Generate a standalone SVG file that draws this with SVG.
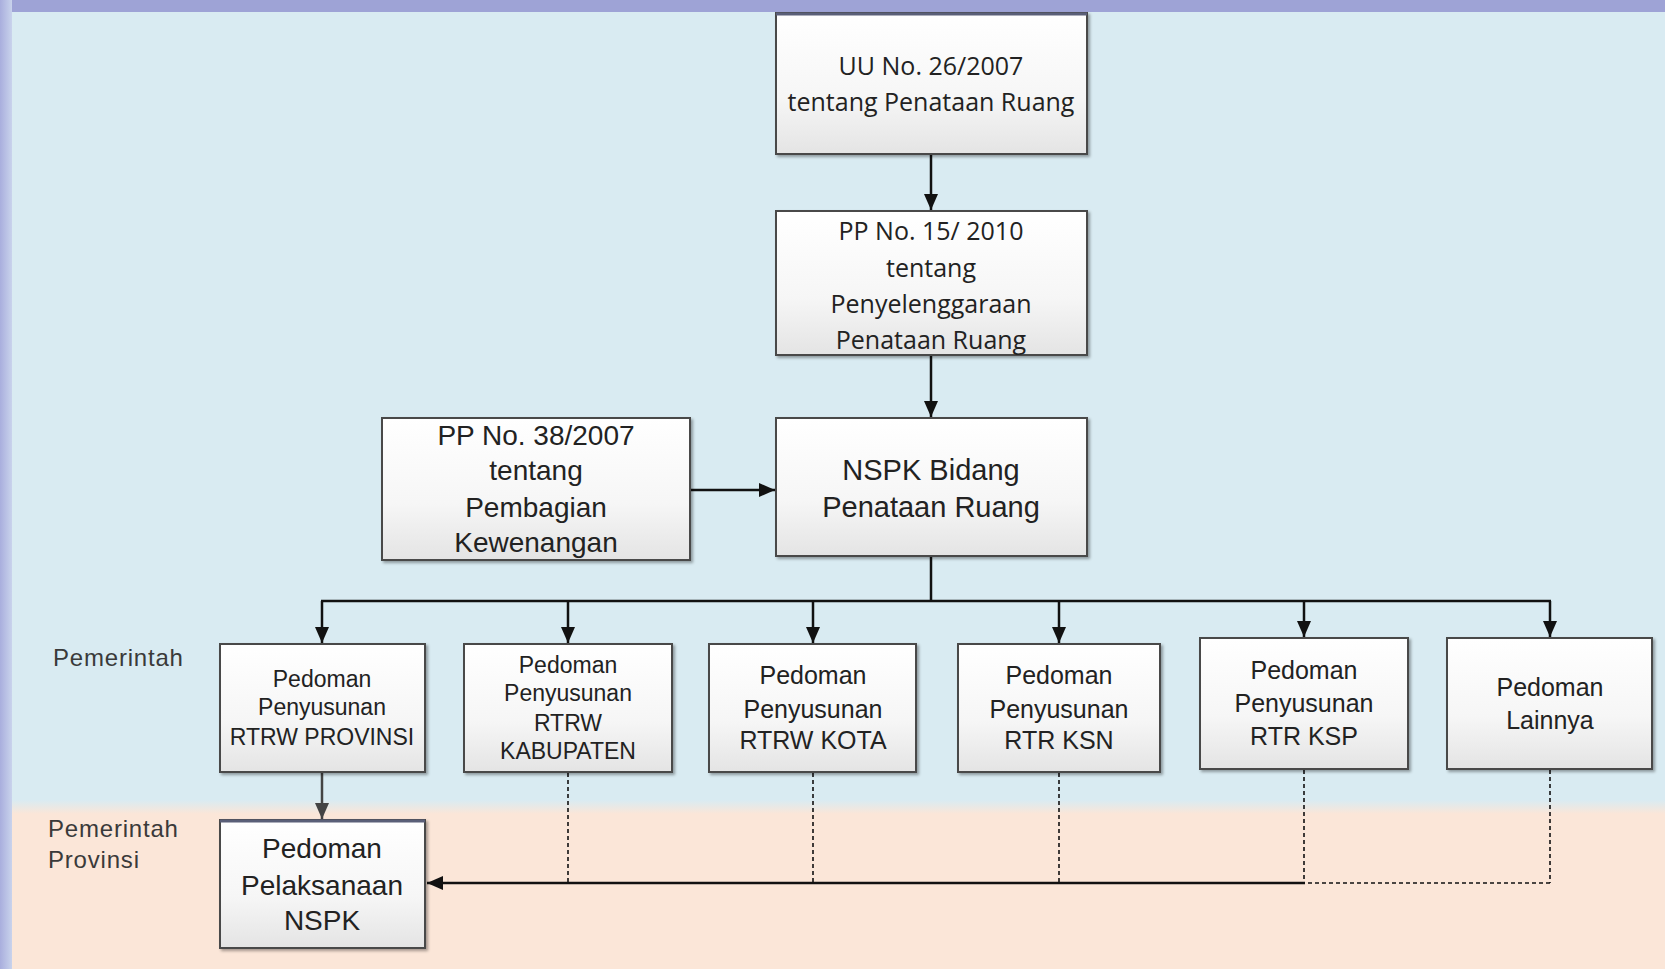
<svg xmlns="http://www.w3.org/2000/svg" width="1665" height="969" viewBox="0 0 1665 969">
<defs>
<linearGradient id="boxg" x1="0" y1="0" x2="0" y2="1">
<stop offset="0" stop-color="#ffffff"/>
<stop offset="0.6" stop-color="#f6f6f6"/>
<stop offset="1" stop-color="#e4e4e4"/>
</linearGradient>
<linearGradient id="leftg" x1="0" y1="0" x2="1" y2="0">
<stop offset="0" stop-color="#a9aedd"/>
<stop offset="1" stop-color="#c9d3ec"/>
</linearGradient>
<linearGradient id="bandg" x1="0" y1="0" x2="0" y2="1">
<stop offset="0" stop-color="#d9ebf2"/>
<stop offset="1" stop-color="#fbe6d8"/>
</linearGradient>
<filter id="sh" x="-5%" y="-5%" width="115%" height="115%">
<feDropShadow dx="2" dy="2" stdDeviation="1.5" flood-color="#000" flood-opacity="0.35"/>
</filter>
<marker id="ah" viewBox="0 0 16 14" refX="16" refY="7" markerWidth="16" markerHeight="14" markerUnits="userSpaceOnUse" orient="auto">
<path d="M0,0 L16,7 L0,14 z" fill="#111"/>
</marker>
<marker id="ahg" viewBox="0 0 16 14" refX="16" refY="7" markerWidth="16" markerHeight="14" markerUnits="userSpaceOnUse" orient="auto">
<path d="M0,0 L16,7 L0,14 z" fill="#444"/>
</marker>
</defs>
<style>
.box{fill:url(#boxg);stroke:#4a4a4a;stroke-width:2;filter:url(#sh)}
.cal{font-family:"Open Sans","Noto Sans",sans-serif;fill:#222;text-anchor:middle}
.ar{font-family:"Liberation Sans",Arial,sans-serif;fill:#222;text-anchor:middle}
.lab{font-family:"Liberation Sans",Arial,sans-serif;fill:#3a3a3a;font-size:24px;letter-spacing:0.8px}
.c{stroke:#111;stroke-width:2.5;fill:none}
.d{stroke:#111;stroke-width:1.6;fill:none;stroke-dasharray:4 3}
</style>
<!-- background -->
<rect x="0" y="0" width="1665" height="969" fill="#d9ebf2"/>
<rect x="0" y="812" width="1665" height="157" fill="#fbe6d8"/>
<rect x="0" y="800" width="1665" height="14" fill="url(#bandg)"/>
<rect x="0" y="0" width="1665" height="12" fill="#9ea3d6"/>
<rect x="0" y="0" width="12" height="969" fill="url(#leftg)"/>

<text class="lab" x="53" y="666">Pemerintah</text>
<text class="lab" x="48" y="837">Pemerintah</text>
<text class="lab" x="48" y="868">Provinsi</text>

<g id="connectors">
<line class="c" x1="931" y1="155" x2="931" y2="210" marker-end="url(#ah)"/>
<line class="c" x1="931" y1="356" x2="931" y2="417" marker-end="url(#ah)"/>
<line class="c" x1="691" y1="490" x2="775" y2="490" marker-end="url(#ah)"/>
<line class="c" x1="931" y1="557" x2="931" y2="601"/>
<line class="c" x1="321" y1="601" x2="1551" y2="601"/>
<line class="c" x1="322" y1="601" x2="322" y2="643" marker-end="url(#ah)"/>
<line class="c" x1="568" y1="601" x2="568" y2="643" marker-end="url(#ah)"/>
<line class="c" x1="813" y1="601" x2="813" y2="643" marker-end="url(#ah)"/>
<line class="c" x1="1059" y1="601" x2="1059" y2="643" marker-end="url(#ah)"/>
<line class="c" x1="1304" y1="601" x2="1304" y2="637" marker-end="url(#ah)"/>
<line class="c" x1="1550" y1="601" x2="1550" y2="637" marker-end="url(#ah)"/>
<line x1="322" y1="773" x2="322" y2="819" stroke="#444" stroke-width="2.5" marker-end="url(#ahg)"/>
<line class="d" x1="568" y1="773" x2="568" y2="883"/>
<line class="d" x1="813" y1="773" x2="813" y2="883"/>
<line class="d" x1="1059" y1="773" x2="1059" y2="883"/>
<line class="d" x1="1304" y1="770" x2="1304" y2="883"/>
<line class="d" x1="1550" y1="770" x2="1550" y2="883"/>
<line class="d" x1="1550" y1="883" x2="1304" y2="883" stroke-width="2.5"/>
<line class="c" x1="1305" y1="883" x2="427" y2="883" marker-end="url(#ah)"/>
</g>

<g id="uu">
<rect class="box" x="776" y="13" width="311" height="141"/>
<line x1="776" y1="14" x2="1087" y2="14" stroke="#5a5f78" stroke-width="3"/>
<text class="cal" font-size="25" x="931" y="75">UU No. 26/2007</text>
<text class="cal" font-size="25" x="931" y="111">tentang Penataan Ruang</text>
</g>

<g id="pp15">
<rect class="box" x="776" y="211" width="311" height="144"/>
<text class="cal" font-size="25" x="931" y="240">PP No. 15/ 2010</text>
<text class="cal" font-size="25" x="931" y="277">tentang</text>
<text class="cal" font-size="25" x="931" y="313">Penyelenggaraan</text>
<text class="cal" font-size="25" x="931" y="349">Penataan Ruang</text>
</g>

<g id="pp38">
<rect class="box" x="382" y="418" width="308" height="142"/>
<text class="ar" font-size="28" x="536" y="445">PP No. 38/2007</text>
<text class="ar" font-size="28" x="536" y="480">tentang</text>
<text class="ar" font-size="28" x="536" y="517">Pembagian</text>
<text class="ar" font-size="28" x="536" y="552">Kewenangan</text>
</g>

<g id="nspk">
<rect class="box" x="776" y="418" width="311" height="138"/>
<text class="ar" font-size="29" x="931" y="480">NSPK Bidang</text>
<text class="ar" font-size="29" x="931" y="517">Penataan Ruang</text>
</g>

<g id="provinsi">
<rect class="box" x="220" y="644" width="205" height="128"/>
<text class="ar" font-size="23" x="322" y="687">Pedoman</text>
<text class="ar" font-size="23" x="322" y="715">Penyusunan</text>
<text class="ar" font-size="23" x="322" y="745">RTRW PROVINSI</text>
</g>

<g id="kabupaten">
<rect class="box" x="464" y="644" width="208" height="128"/>
<text class="ar" font-size="23" x="568" y="673">Pedoman</text>
<text class="ar" font-size="23" x="568" y="701">Penyusunan</text>
<text class="ar" font-size="23" x="568" y="731">RTRW</text>
<text class="ar" font-size="23" x="568" y="759">KABUPATEN</text>
</g>

<g id="kota">
<rect class="box" x="709" y="644" width="207" height="128"/>
<text class="ar" font-size="25" x="813" y="684">Pedoman</text>
<text class="ar" font-size="25" x="813" y="718">Penyusunan</text>
<text class="ar" font-size="25" x="813" y="749">RTRW KOTA</text>
</g>

<g id="ksn">
<rect class="box" x="958" y="644" width="202" height="128"/>
<text class="ar" font-size="25" x="1059" y="684">Pedoman</text>
<text class="ar" font-size="25" x="1059" y="718">Penyusunan</text>
<text class="ar" font-size="25" x="1059" y="749">RTR KSN</text>
</g>

<g id="ksp">
<rect class="box" x="1200" y="638" width="208" height="131"/>
<text class="ar" font-size="25" x="1304" y="679">Pedoman</text>
<text class="ar" font-size="25" x="1304" y="712">Penyusunan</text>
<text class="ar" font-size="25" x="1304" y="745">RTR KSP</text>
</g>

<g id="lainnya">
<rect class="box" x="1447" y="638" width="205" height="131"/>
<text class="ar" font-size="25" x="1550" y="696">Pedoman</text>
<text class="ar" font-size="25" x="1550" y="729">Lainnya</text>
</g>

<g id="pelaksanaan">
<rect class="box" x="220" y="820" width="205" height="128"/>
<line x1="220" y1="821" x2="425" y2="821" stroke="#5a5f78" stroke-width="3"/>
<text class="ar" font-size="28" x="322" y="858">Pedoman</text>
<text class="ar" font-size="28" x="322" y="895">Pelaksanaan</text>
<text class="ar" font-size="28" x="322" y="930">NSPK</text>
</g>
</svg>
